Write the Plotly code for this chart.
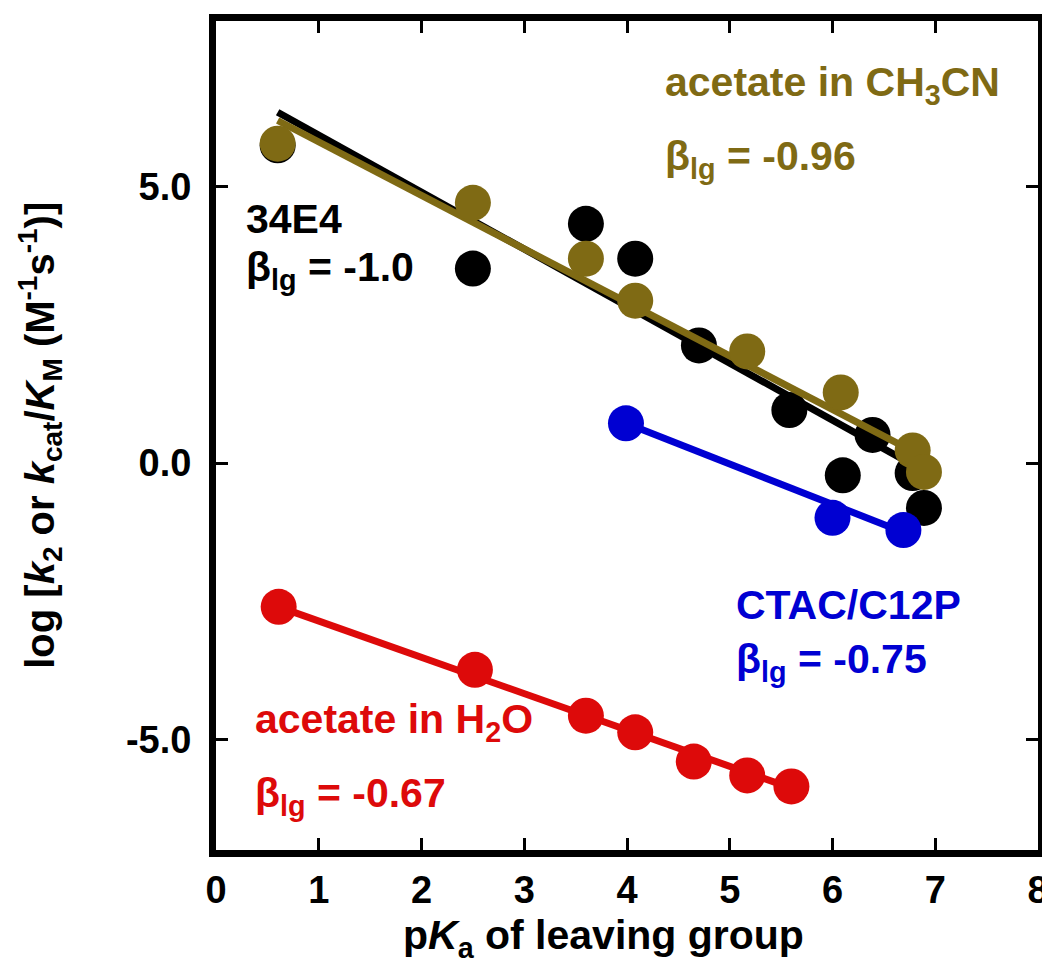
import plotly.graph_objects as go

# ---- data ----
black_x = [0.6, 2.5, 3.6, 4.08, 4.7, 5.58, 6.1, 6.39, 6.78, 6.89]
black_y = [5.75, 3.52, 4.33, 3.70, 2.13, 0.96, -0.22, 0.51, -0.18, -0.81]
black_fit_x = [0.6, 6.8]
black_fit_y = [6.35, -0.05]

gold_x = [0.6, 2.5, 3.6, 4.08, 5.17, 6.08, 6.78, 6.89]
gold_y = [5.78, 4.71, 3.70, 2.94, 2.02, 1.28, 0.23, -0.16]
gold_fit_x = [0.6, 6.9]
gold_fit_y = [6.2, 0.1]

blue_x = [3.99, 6.0, 6.69]
blue_y = [0.72, -0.99, -1.21]
blue_fit_x = [3.99, 6.69]
blue_fit_y = [0.72, -1.25]

red_x = [0.61, 2.52, 3.6, 4.08, 4.65, 5.17, 5.6]
red_y = [-2.6, -3.74, -4.57, -4.87, -5.40, -5.65, -5.85]
red_fit_x = [0.61, 5.6]
red_fit_y = [-2.6, -5.88]

x_ticks = [0, 1, 2, 3, 4, 5, 6, 7, 8]
y_ticks = [-5, 0, 5]
y_tick_labels = ["-5.0", "0.0", "5.0"]

BLACK = "#000000"
GOLD = "#7F6A14"
BLUE = "#0000D2"
RED = "#DD0A0A"
FONT = "Liberation Sans, Arial, sans-serif"

fig = go.Figure()

def add_series(xs, ys, fx, fy, color):
    fig.add_trace(go.Scatter(x=fx, y=fy, mode="lines",
                             line=dict(color=color, width=7),
                             showlegend=False, hoverinfo="skip"))
    fig.add_trace(go.Scatter(x=xs, y=ys, mode="markers",
                             marker=dict(color=color, size=36, line=dict(width=0)),
                             showlegend=False))

add_series(black_x, black_y, black_fit_x, black_fit_y, BLACK)
add_series(gold_x, gold_y, gold_fit_x, gold_fit_y, GOLD)
add_series(blue_x, blue_y, blue_fit_x, blue_fit_y, BLUE)
add_series(red_x, red_y, red_fit_x, red_fit_y, RED)

ann_font = 41
annotations = [
    (4.35, 6.84, "<b>acetate in CH<sub>3</sub>CN</b>", GOLD),
    (4.35, 5.50, "<b>β<sub>lg</sub> = -0.96</b>", GOLD),
    (0.27, 4.42, "<b>34E4</b>", BLACK),
    (0.27, 3.50, "<b>β<sub>lg</sub> = -1.0</b>", BLACK),
    (5.04, -2.56, "<b>CTAC/C12P</b>", BLUE),
    (5.04, -3.60, "<b>β<sub>lg</sub> = -0.75</b>", BLUE),
    (0.36, -4.68, "<b>acetate in H<sub>2</sub>O</b>", RED),
    (0.36, -6.03, "<b>β<sub>lg</sub> = -0.67</b>", RED),
]
for x, y, t, c in annotations:
    fig.add_annotation(x=x, y=y, text=t, showarrow=False, xanchor="left",
                       yanchor="middle", font=dict(family=FONT, size=ann_font, color=c))

# axis titles
fig.add_annotation(xref="paper", yref="paper", x=0.471, y=-0.106,
                   text="<b>p<i>K</i><sub>a</sub> of leaving group</b>", showarrow=False,
                   xanchor="center", yanchor="middle",
                   font=dict(family=FONT, size=41, color="black"))
fig.add_annotation(xref="paper", yref="paper", x=-0.215, y=0.50,
                   text="<b>log [<i>k</i><sub>2</sub> or <i>k</i><sub>cat</sub>/<i>K</i><sub>M</sub> (M<sup>-1</sup>s<sup>-1</sup>)]</b>",
                   showarrow=False, textangle=-90, xanchor="center", yanchor="middle",
                   font=dict(family=FONT, size=40, color="black"))

axis_common = dict(
    showline=True, linecolor="black", linewidth=7, mirror="ticks",
    ticks="inside", ticklen=12, tickwidth=3, tickcolor="black",
    showgrid=False, zeroline=False, automargin=False,
    ticklabeloverflow="allow",
    tickfont=dict(family=FONT, size=38, color="black"),
)

fig.update_xaxes(range=[0, 8], tickvals=x_ticks, ticktext=[f"<b>{v}</b>" for v in x_ticks],
                 ticklabelstandoff=0, **axis_common)
fig.update_yaxes(range=[-7, 8], tickvals=y_ticks, ticktext=[f"<b>{v}</b>" for v in y_tick_labels],
                 ticklabelstandoff=10, **axis_common)

fig.update_layout(
    width=1050, height=968,
    margin=dict(l=208, r=20, t=13, b=126),
    plot_bgcolor="white", paper_bgcolor="white",
    font=dict(family=FONT),
)

fig.write_html("out.html")
